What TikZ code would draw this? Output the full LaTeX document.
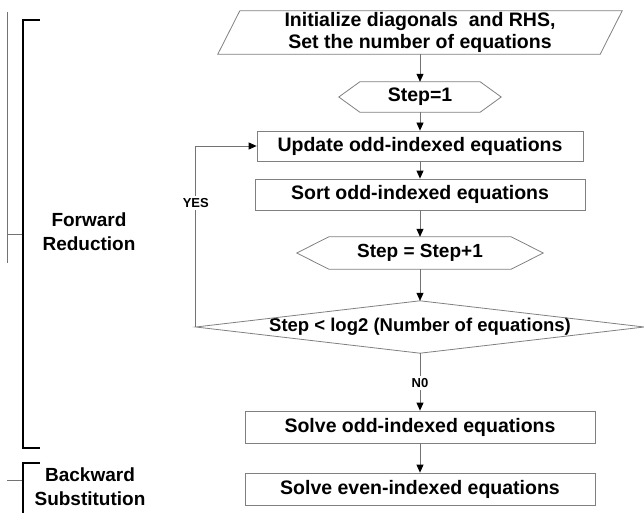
\documentclass[tikz,border=0pt]{standalone}
\usepackage{fontspec}
\setmainfont{Liberation Sans}
\usetikzlibrary{arrows.meta,calc}
\definecolor{boxgray}{gray}{0.5}
\definecolor{linegray}{gray}{0.45}
\begin{document}
\begin{tikzpicture}[x=1pt,y=-1pt,
  txt/.style={font=\fontsize{19.5}{22}\selectfont\bfseries, align=center},
  sidetxt/.style={font=\fontsize{19}{24}\selectfont\bfseries, align=center},
  procbox/.style={txt, draw=boxgray, line width=0.8pt, inner sep=0pt},
  frame/.style={txt, draw=none, inner sep=0pt},
  outline/.style={draw=boxgray, line width=0.8pt},
  flow/.style={draw=linegray, line width=0.8pt, -{Triangle[length=8pt,width=7pt,color=black]}},
  lbl/.style={font=\fontsize{13}{15}\selectfont\bfseries, fill=white, inner sep=2pt},
  brace/.style={draw=black, line width=1.6pt},
  thin/.style={draw=linegray, line width=0.7pt}]
\useasboundingbox (0,0) rectangle (644,513);

% nodes
\node[frame, font=\fontsize{19.5}{22}\selectfont\bfseries, minimum width=404pt, minimum height=43pt] (init) at (420,32.5)
  {Initialize diagonals\ \ and RHS,\\Set the number of equations};
\node[frame, minimum width=162pt, minimum height=30pt] (step1) at (420,97) {Step=1};
\node[procbox, minimum width=326pt, minimum height=30pt] (update) at (420,146) {Update odd-indexed equations};
\node[procbox, minimum width=330pt, minimum height=31pt] (sort) at (420,194.5) {Sort odd-indexed equations};
\node[frame, font=\fontsize{19}{22}\selectfont\bfseries, minimum width=246pt, minimum height=32pt] (step2) at (420,253) {Step = Step+1};
\node[frame, font=\fontsize{18.5}{22}\selectfont\bfseries, minimum width=448pt, minimum height=52pt] (cond) at (420,327) {Step < log2 (Number of equations)};
\node[procbox, minimum width=350pt, minimum height=32pt] (odd) at (420,427) {Solve odd-indexed equations};
\node[procbox, minimum width=350pt, minimum height=32pt] (even) at (420,489) {Solve even-indexed equations};

\node[sidetxt] (fwd) at (89,232) {Forward\\Reduction};
\node[sidetxt] (bwd) at (90,487) {Backward\\Substitution};

% outlines of special shapes
\draw[outline] ([xshift=22pt]init.north west) -- (init.north east)
  -- ([xshift=-22pt]init.south east) -- (init.south west) -- cycle;
\draw[outline] (step1.west) -- ([xshift=21pt]step1.north west) -- ([xshift=-21pt]step1.north east)
  -- (step1.east) -- ([xshift=-21pt]step1.south east) -- ([xshift=21pt]step1.south west) -- cycle;
\draw[outline] (step2.west) -- ([xshift=32pt]step2.north west) -- ([xshift=-32pt]step2.north east)
  -- (step2.east) -- ([xshift=-32pt]step2.south east) -- ([xshift=32pt]step2.south west) -- cycle;
\draw[outline] (cond.west) -- (cond.north) -- (cond.east) -- (cond.south) -- cycle;

% connectors
\draw[flow] (init.south) -- (step1.north);
\draw[flow] (step1.south) -- (update.north);
\draw[flow] (update.south) -- (sort.north);
\draw[flow] (sort.south) -- (step2.north);
\draw[flow] (step2.south) -- (cond.north);
\draw[flow] (cond.south) -- node[lbl, pos=0.52] {N0} (odd.north);
\draw[flow] (odd.south) -- (even.north);
\draw[flow] (cond.west) -- node[lbl, pos=0.685] {YES} (cond.west |- update.west) -- (update.west);

% brackets
\draw[thin] (7,12) -- (7,263);
\draw[thin] (7,234) -- (23,234);
\draw[brace] (40,20) -- (23,20) -- (23,448) -- (40,448);
\draw[thin] (7,480) -- (23,480);
\draw[brace] (40,463) -- (23,463) -- (23,515);
\end{tikzpicture}
\end{document}
